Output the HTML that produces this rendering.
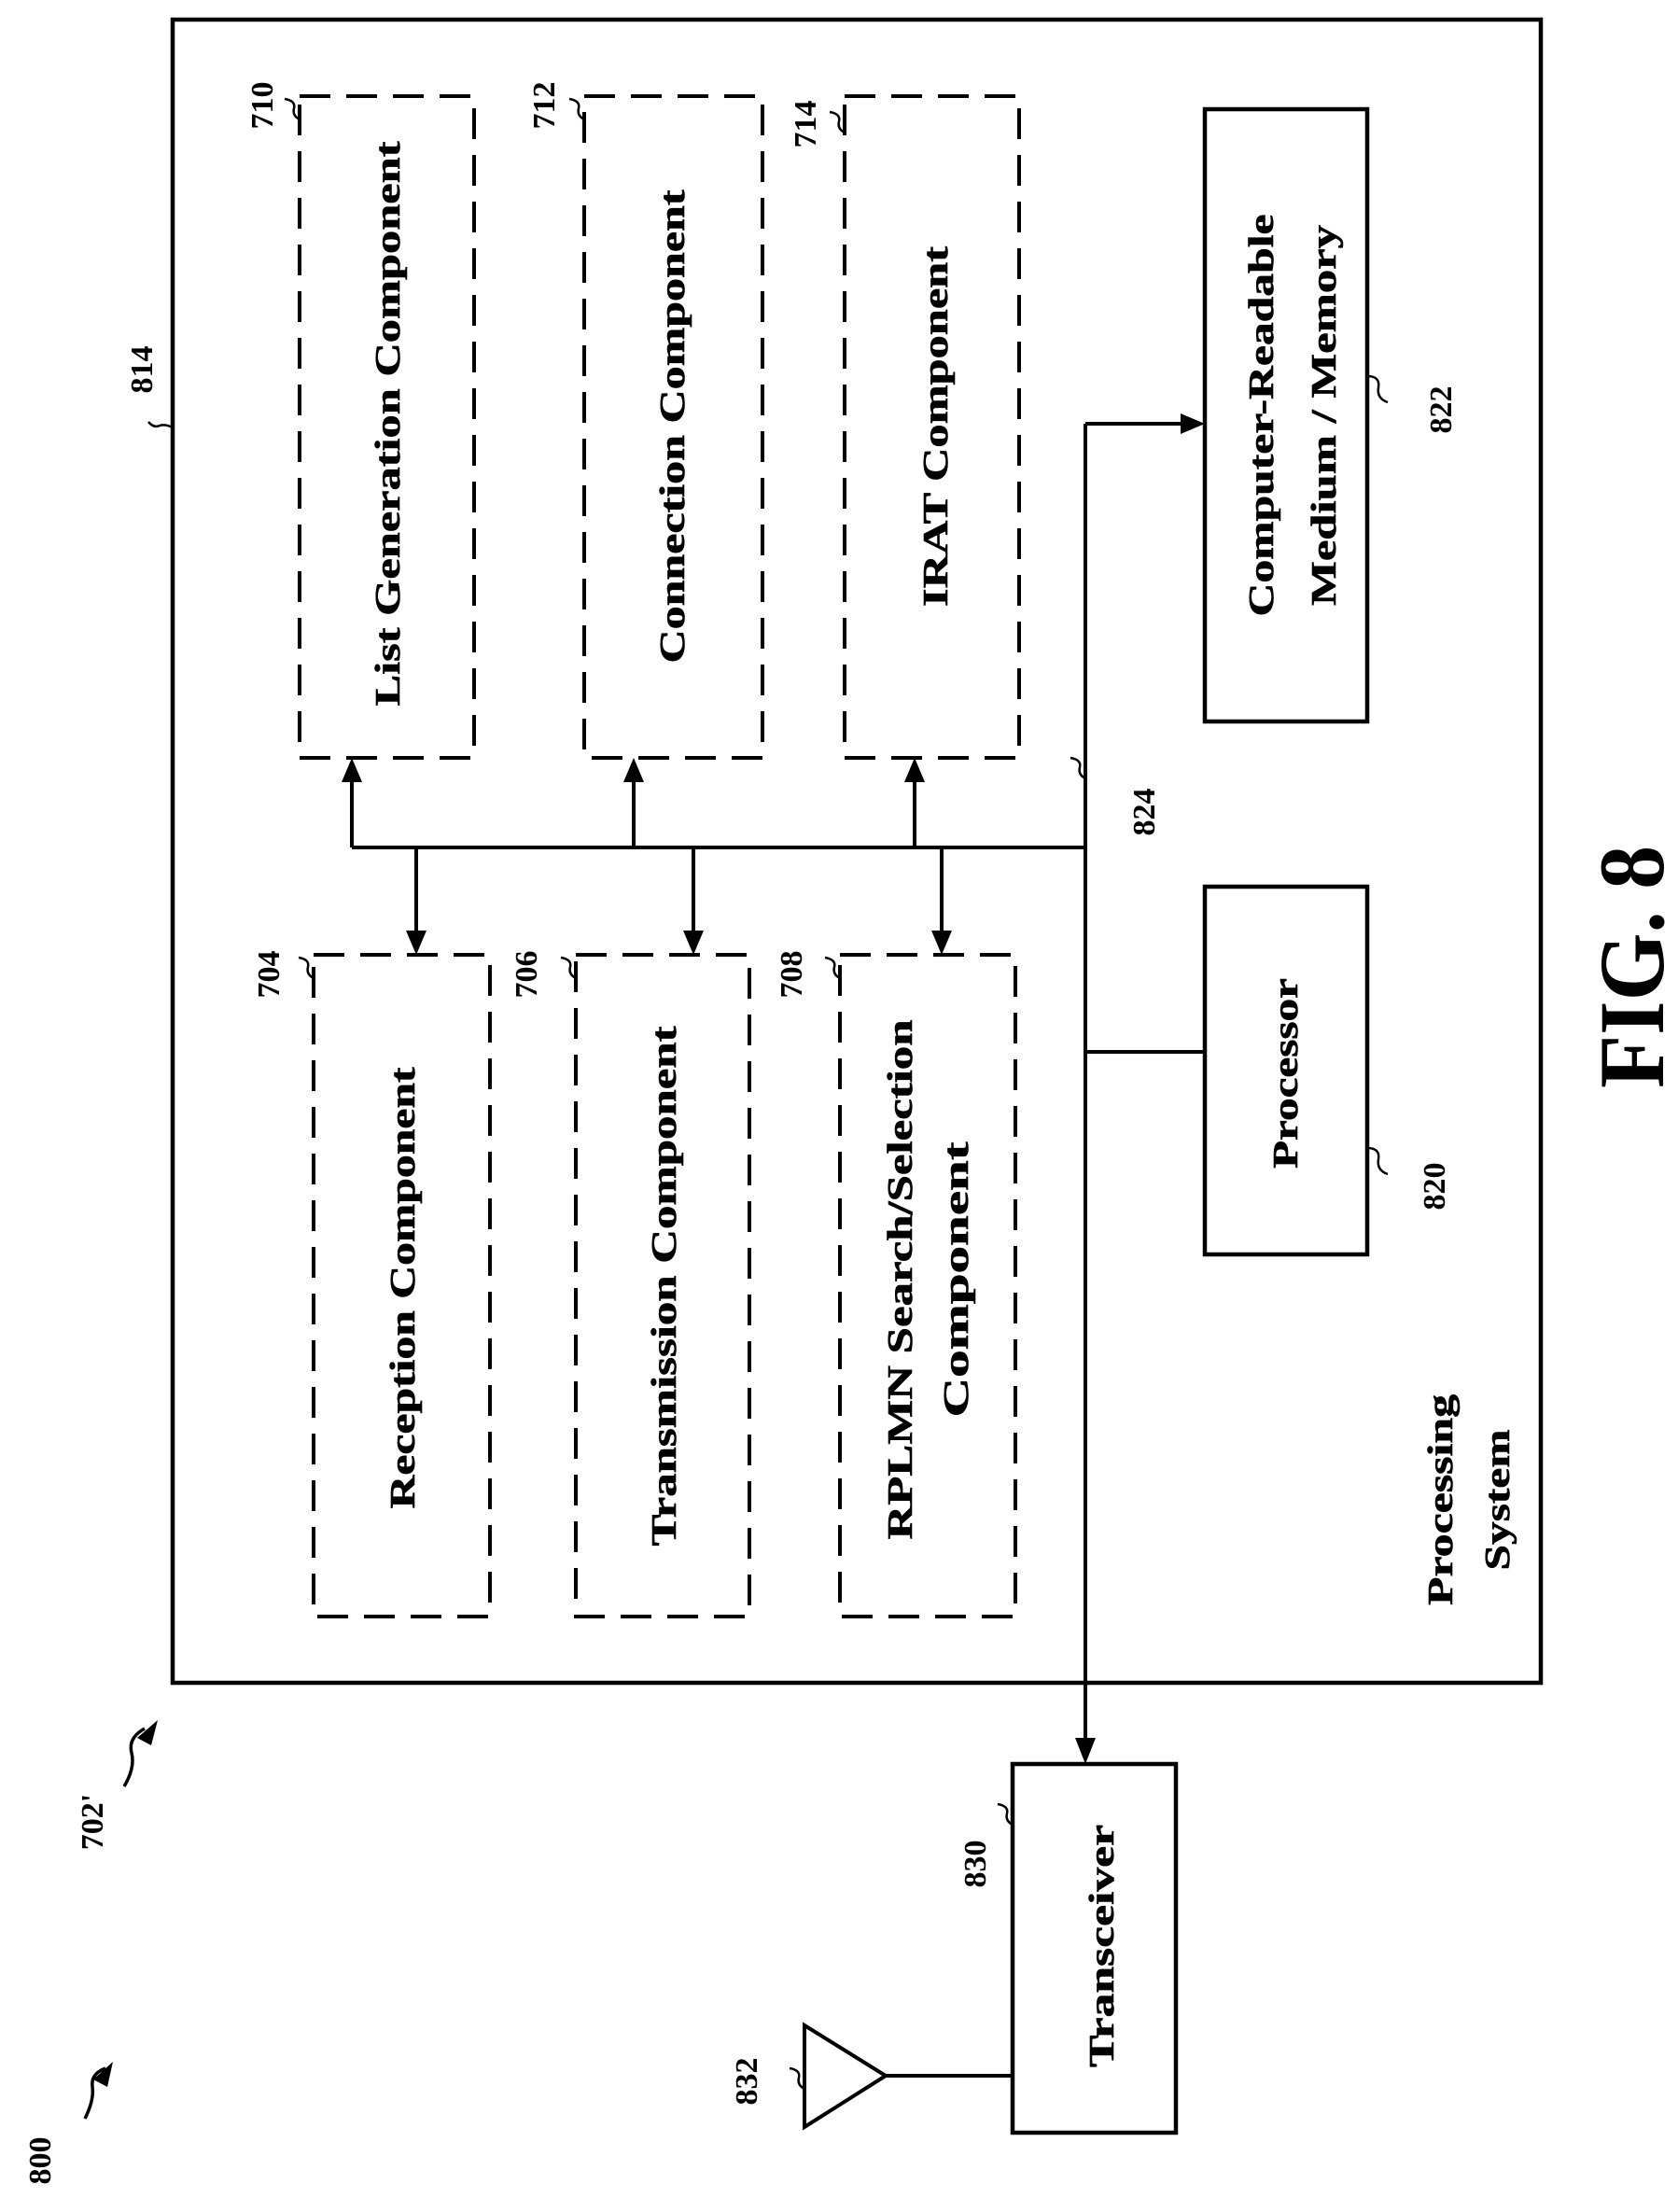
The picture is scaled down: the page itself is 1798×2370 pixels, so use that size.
<!DOCTYPE html>
<html><head><meta charset="utf-8"><style>
html,body{margin:0;padding:0;background:#fff;}
svg{display:block;}
text{font-family:"Liberation Serif",serif;font-weight:bold;fill:#000;}
</style></head><body>
<svg width="1798" height="2370" viewBox="0 0 1798 2370" xmlns="http://www.w3.org/2000/svg">
<g fill="none" stroke="#000">
<rect x="185" y="21" width="1466" height="1782" stroke-width="4.5"/>
<g stroke-width="4" stroke-dasharray="33,17">
<rect x="321" y="103" width="187" height="709"/>
<rect x="626" y="103" width="191" height="709"/>
<rect x="905" y="103" width="187" height="709"/>
<rect x="336" y="1023" width="189" height="709"/>
<rect x="617" y="1023" width="186" height="709"/>
<rect x="900" y="1023" width="188" height="709"/>
</g>
<rect x="1291" y="117" width="174" height="656" stroke-width="4.5"/>
<rect x="1291" y="950" width="174" height="394" stroke-width="4.5"/>
<rect x="1085" y="1890" width="175" height="395" stroke-width="4.5"/>
<g stroke-width="4">
<line x1="1163" y1="454" x2="1163" y2="1862"/>
<line x1="1163" y1="454" x2="1265" y2="454"/>
<line x1="377" y1="908" x2="1163" y2="908"/>
<line x1="1163" y1="1127" x2="1291" y2="1127"/>
<line x1="377" y1="908" x2="377" y2="838"/>
<line x1="679" y1="908" x2="679" y2="838"/>
<line x1="980" y1="908" x2="980" y2="838"/>
<line x1="446" y1="908" x2="446" y2="997"/>
<line x1="743" y1="908" x2="743" y2="997"/>
<line x1="1009" y1="908" x2="1009" y2="997"/>
<line x1="949" y1="2224" x2="1085" y2="2224"/>
<polygon points="862,2170 862,2279 949,2224"/>
</g>
<g stroke-width="2.5">
<path d="M185,458 q-8,-4 -14,-2 q-6,3 -12,-4"/>
<path d="M321,128 q-8,-4 -6,-12 q2,-8 -10,-10"/>
<path d="M626,128 q-8,-4 -6,-12 q2,-8 -10,-10"/>
<path d="M905,142 q-8,-4 -6,-12 q2,-8 -10,-10"/>
<path d="M336,1048 q-8,-4 -6,-12 q2,-8 -10,-10"/>
<path d="M617,1048 q-8,-4 -6,-12 q2,-8 -10,-10"/>
<path d="M900,1048 q-8,-4 -6,-12 q2,-8 -10,-10"/>
<path d="M1465,403 q14,0 12,12 q-2,12 10,16"/>
<path d="M1465,1230 q14,0 12,12 q-2,12 10,16"/>
<path d="M1163,834 q-8,-4 -6,-12 q2,-8 -10,-10"/>
<path d="M1085,1955 q-8,-4 -6,-12 q2,-8 -10,-10"/>
<path d="M862,2238 q-8,-4 -6,-12 q2,-8 -10,-10"/>
<path d="M133,1914 q12,-20 8,-36 q-4,-16 14,-26" stroke-width="3.5"/>
<path d="M91,2270 q10,-20 8,-34 q-2,-14 14,-20" stroke-width="3.5"/>
</g>
</g>
<g fill="#000">
<polygon points="1291,454 1265,443 1265,465"/>
<polygon points="377,812 366,838 388,838"/>
<polygon points="679,812 668,838 690,838"/>
<polygon points="980,812 969,838 991,838"/>
<polygon points="446,1023 435,997 457,997"/>
<polygon points="743,1023 732,997 754,997"/>
<polygon points="1009,1023 998,997 1020,997"/>
<polygon points="1163,1890 1152,1862 1174,1862"/>
<polygon points="169,1843 147,1862 162,1870"/>
<polygon points="121,2209 100,2228 115,2236"/>
</g>
<g font-size="38" text-anchor="middle" stroke="#000" stroke-width="0.6">
<text transform="translate(428,454) rotate(-90)" textLength="605" lengthAdjust="spacingAndGlyphs">List Generation Component</text>
<text transform="translate(733,457) rotate(-90)" textLength="507" lengthAdjust="spacingAndGlyphs">Connection Component</text>
<text transform="translate(1015,457) rotate(-90)" textLength="386" lengthAdjust="spacingAndGlyphs">IRAT Component</text>
<text transform="translate(1364,445) rotate(-90)" textLength="431" lengthAdjust="spacingAndGlyphs">Computer-Readable</text>
<text transform="translate(1431,445) rotate(-90)" textLength="408" lengthAdjust="spacingAndGlyphs">Medium / Memory</text>
<text transform="translate(444,1380) rotate(-90)" textLength="473" lengthAdjust="spacingAndGlyphs">Reception Component</text>
<text transform="translate(724,1378) rotate(-90)" textLength="557" lengthAdjust="spacingAndGlyphs">Transmission Component</text>
<text transform="translate(977,1371) rotate(-90)" textLength="557" lengthAdjust="spacingAndGlyphs">RPLMN Search/Selection</text>
<text transform="translate(1037,1371) rotate(-90)" textLength="295" lengthAdjust="spacingAndGlyphs">Component</text>
<text transform="translate(1390,1150) rotate(-90)" textLength="204" lengthAdjust="spacingAndGlyphs">Processor</text>
<text transform="translate(1193,2085) rotate(-90)" textLength="260" lengthAdjust="spacingAndGlyphs">Transceiver</text>
<text transform="translate(1556,1607) rotate(-90)" textLength="226" lengthAdjust="spacingAndGlyphs">Processing</text>
<text transform="translate(1617,1607) rotate(-90)" textLength="151" lengthAdjust="spacingAndGlyphs">System</text>
</g>
<g font-size="34" text-anchor="middle">
<text transform="translate(163,396) rotate(-90)">814</text>
<text transform="translate(292,113) rotate(-90)">710</text>
<text transform="translate(594,113) rotate(-90)">712</text>
<text transform="translate(874,133) rotate(-90)">714</text>
<text transform="translate(299,1044) rotate(-90)">704</text>
<text transform="translate(575,1044) rotate(-90)">706</text>
<text transform="translate(859,1044) rotate(-90)">708</text>
<text transform="translate(1555,439) rotate(-90)">822</text>
<text transform="translate(1237,870) rotate(-90)">824</text>
<text transform="translate(1548,1271) rotate(-90)">820</text>
<text transform="translate(1056,1997) rotate(-90)">830</text>
<text transform="translate(811,2230) rotate(-90)">832</text>
<text transform="translate(110,1952) rotate(-90)">702'</text>
<text transform="translate(54,2315) rotate(-90)">800</text>
</g>
<text font-size="100" text-anchor="middle" transform="translate(1782,1036) rotate(-90)" textLength="260" lengthAdjust="spacingAndGlyphs">FIG. 8</text>
</svg>
</body></html>
